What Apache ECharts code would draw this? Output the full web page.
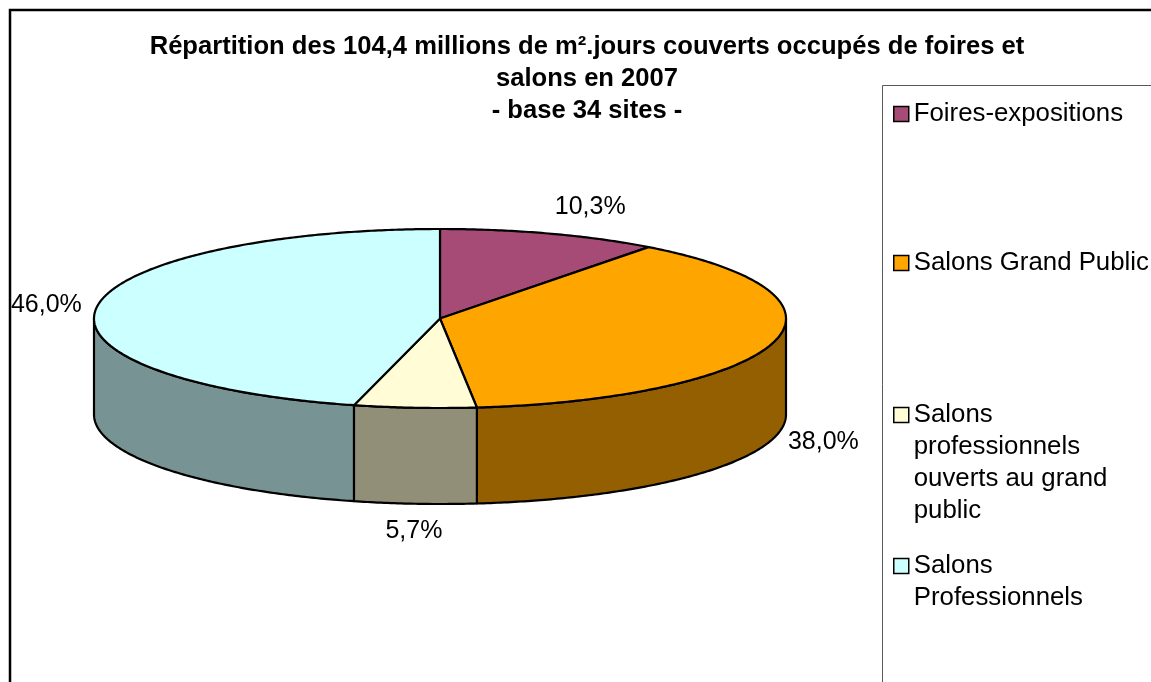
<!DOCTYPE html>
<html><head><meta charset="utf-8">
<script src="https://cdn.jsdelivr.net/npm/echarts@6/dist/echarts.min.js"></script>
<style>html,body{margin:0;padding:0;background:#fff}#c{width:1151px;height:682px}</style>
</head><body><div id="c"></div>
<script>
// ---- data ----
const categories = ['Foires-expositions', 'Salons Grand Public', 'Salons professionnels ouverts au grand public', 'Salons Professionnels'];
const shares = [10.3, 38.0, 5.7, 46.0];
const legendLabels = ['Foires-expositions', 'Salons Grand Public', 'Salons\nprofessionnels\nouverts au grand\npublic', 'Salons\nProfessionnels'];
const titleLines = ['Répartition des 104,4 millions de m².jours couverts occupés de foires et', 'salons en 2007', '- base 34 sites -'];

// ---- style / layout ----
const topColors = ['#A64A76', '#FFA500', '#FFFCD6', '#CCFFFF'];
const sideColors = ['#5A2840', '#935F00', '#928F78', '#789393'];
const FONT = "'Liberation Sans', Arial, Helvetica, sans-serif";
const CX = 440, CY = 318.5, RX = 346, RY = 89.5, DEPTH = 96;
const legendIconCenters = [114, 263, 415, 566];
const LH = 32;

const total = shares.reduce((a, b) => a + b, 0);
function pt(a, dy) { return [CX + RX * Math.sin(a), CY - RY * Math.cos(a) + dy]; }
function arc(a0, a1, dy) {
  const n = Math.max(2, Math.ceil((a1 - a0) / 0.01));
  const out = [];
  for (let k = 0; k <= n; k++) out.push(pt(a0 + (a1 - a0) * k / n, dy));
  return out;
}

function renderSlice(i) {
  return function (params, api) {
    const v = api.value(0);
    let before = 0;
    for (let k = 0; k < i; k++) before += shares[k];
    const a0 = before / total * 2 * Math.PI, a1 = (before + v) / total * 2 * Math.PI;
    const children = [];
    const s = Math.max(a0, Math.PI / 2), e = Math.min(a1, 3 * Math.PI / 2);
    if (s < e) {
      const pts = arc(s, e, 0).concat(arc(s, e, DEPTH).reverse());
      children.push({ type: 'polygon', z2: 1, shape: { points: pts },
        style: { fill: sideColors[i], stroke: '#000', lineWidth: 2.2, lineJoin: 'round' } });
    }
    const topPts = [[CX, CY]].concat(arc(a0, a1, 0));
    children.push({ type: 'polygon', z2: 10, shape: { points: topPts },
      style: { fill: topColors[i], stroke: '#000', lineWidth: 2.2, lineJoin: 'round' } });
    const m = (a0 + a1) / 2, sn = Math.sin(m), cs = Math.cos(m);
    const p = pt(m, cs < 0 ? DEPTH : 0);
    children.push({ type: 'text', z2: 20, style: {
      x: p[0] + 15 * sn, y: p[1] - 15 * cs,
      text: v.toFixed(1).replace('.', ',') + '%',
      fill: '#000', fontSize: 25, fontFamily: FONT,
      align: sn > 0.3 ? 'left' : (sn < -0.3 ? 'right' : 'center'),
      verticalAlign: cs > 0.3 ? 'bottom' : (cs < -0.3 ? 'top' : 'middle')
    } });
    return { type: 'group', children };
  };
}

const chart = echarts.init(document.getElementById('c'), null, { renderer: 'canvas' });
chart.setOption({
  backgroundColor: '#fff',
  animation: false,
  title: {
    text: titleLines.join('\n'), left: 587, top: 31, textAlign: 'center', padding: 0,
    textStyle: { fontSize: 25.6, fontWeight: 'bold', fontFamily: FONT, color: '#000', lineHeight: LH }
  },
  graphic: [
    { type: 'rect', silent: true, z: 0, shape: { x: 10, y: 10, width: 1200, height: 700 },
      style: { fill: 'none', stroke: '#000', lineWidth: 2.5 } },
    { type: 'rect', silent: true, z: 0, shape: { x: 882.5, y: 85.5, width: 400, height: 700 },
      style: { fill: 'none', stroke: '#595959', lineWidth: 1 } }
  ],
  legend: categories.map((name, i) => {
    const n = legendLabels[i].split('\n').length;
    return {
      data: [name], orient: 'vertical', left: 893,
      top: legendIconCenters[i] - (2 * n - 1) * LH / 2,
      padding: 0, itemWidth: 15, itemHeight: 15, itemGap: 0, icon: 'rect',
      selectedMode: false,
      formatter: () => '\n'.repeat(n - 1) + legendLabels[i],
      itemStyle: { borderColor: '#000', borderWidth: 1.5 },
      textStyle: { fontSize: 25.8, fontFamily: FONT, color: '#000', lineHeight: LH }
    };
  }),
  series: categories.map((name, i) => ({
    type: 'custom', name, coordinateSystem: 'none', silent: true,
    itemStyle: { color: topColors[i] },
    renderItem: renderSlice(i),
    data: [[shares[i]]]
  }))
});
</script>
</body></html>
